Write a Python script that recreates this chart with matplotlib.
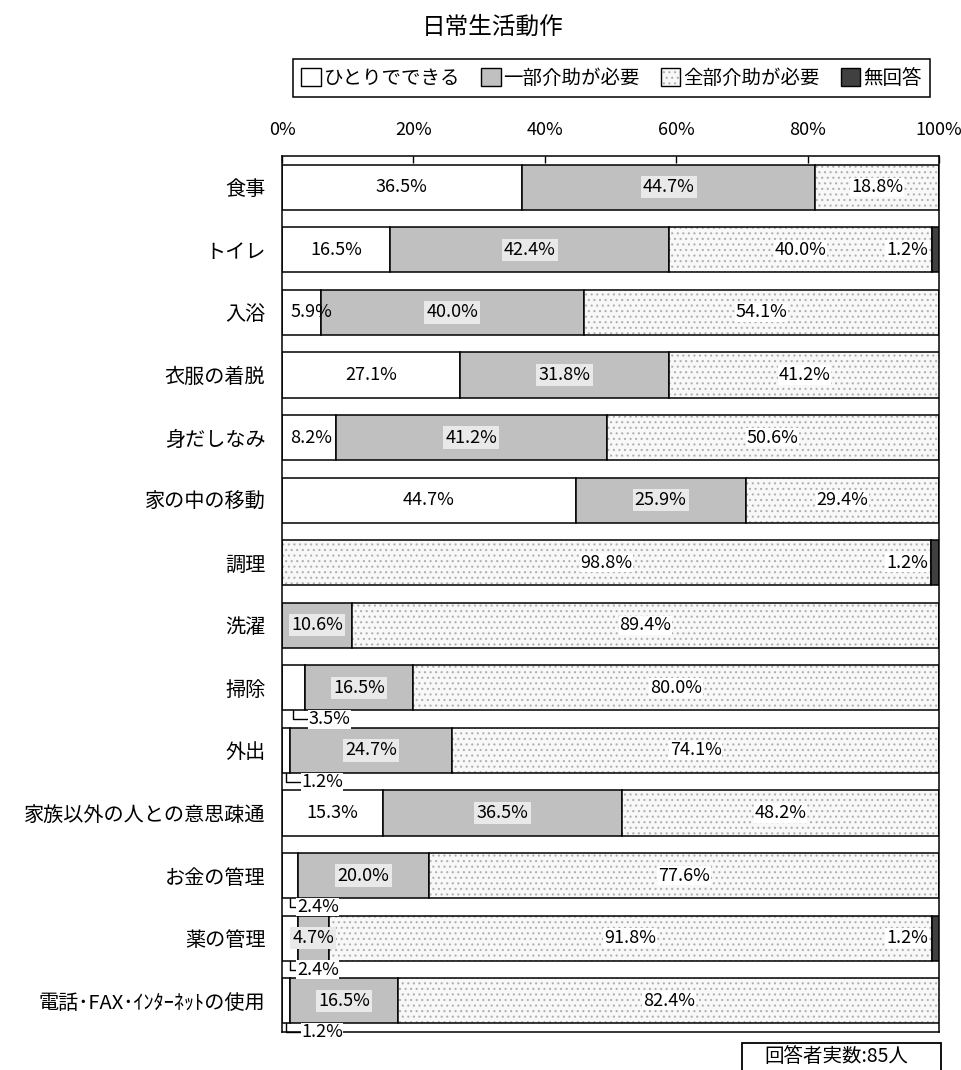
import matplotlib.pyplot as plt
from matplotlib.patches import Patch, Rectangle
from matplotlib.legend_handler import HandlerTuple

plt.rcParams['font.family'] = ['Noto Sans CJK JP', 'DejaVu Sans']
plt.rcParams['hatch.linewidth'] = 0.8

categories = ['食事', 'トイレ', '入浴', '衣服の着脱', '身だしなみ', '家の中の移動',
              '調理', '洗濯', '掃除', '外出', '家族以外の人との意思疎通',
              'お金の管理', '薬の管理', '電話･FAX･ｲﾝﾀｰﾈｯﾄの使用']
alone = [36.5, 16.5, 5.9, 27.1, 8.2, 44.7, 0, 0, 3.5, 1.2, 15.3, 2.4, 2.4, 1.2]
partial = [44.7, 42.4, 40.0, 31.8, 41.2, 25.9, 0, 10.6, 16.5, 24.7, 36.5, 20.0, 4.7, 16.5]
full = [18.8, 40.0, 54.1, 41.2, 50.6, 29.4, 98.8, 89.4, 80.0, 74.1, 48.2, 77.6, 91.8, 82.4]
no_answer = [0, 1.2, 0, 0, 0, 0, 1.2, 0, 0, 0, 0, 0, 1.2, 0]
series_names = ['ひとりでできる', '一部介助が必要', '全部介助が必要', '無回答']
xticks = [0, 20, 40, 60, 80, 100]
respondents = 85

W, H = 962, 1070
fig = plt.figure(figsize=(W / 100, H / 100), dpi=100)
ax = fig.add_axes([282 / W, 1 - 1032 / H, 657 / W, 876 / H])

bar_h = 0.72
rows = list(range(len(categories)))
white, gray, dot_face, dot_color, dark = 'white', '#c0c0c0', '#f8f8f8', '#b0b0b0', '#404040'

left = [0.0] * len(rows)
segments = []
for name, vals in zip(series_names, [alone, partial, full, no_answer]):
    segments.append((name, vals, list(left)))
    left = [l + v for l, v in zip(left, vals)]

for name, vals, lefts in segments:
    if name == '全部介助が必要':
        ax.barh(rows, vals, left=lefts, height=bar_h, color=dot_face,
                hatch='...', edgecolor=dot_color, linewidth=0)
        ax.barh(rows, vals, left=lefts, height=bar_h, fill=False,
                edgecolor='black', linewidth=1.1)
    else:
        fc = {'ひとりでできる': white, '一部介助が必要': gray, '無回答': dark}[name]
        ax.barh(rows, vals, left=lefts, height=bar_h, color=fc,
                edgecolor='black', linewidth=1.1)

lab_fs = 13
for name, vals, lefts in segments:
    for i, (v, l) in enumerate(zip(vals, lefts)):
        if v == 0:
            continue
        txt = f'{v:.1f}%'
        if name == '無回答':
            ax.text(98.3, i, txt, ha='right', va='center', fontsize=lab_fs,
                    bbox=dict(facecolor='white', edgecolor='none', pad=0.5))
        elif name == 'ひとりでできる':
            if v < 4:
                # small share: leader line drawn down into the gap below the bar
                ax.annotate(txt, xy=(l + v / 2, i + bar_h / 2),
                            xytext=(11 if v != 2.4 else 5, -6.5),
                            textcoords='offset points', ha='left', va='center',
                            fontsize=lab_fs,
                            bbox=dict(facecolor='white', edgecolor='none', pad=0.3),
                            arrowprops=dict(arrowstyle='-', lw=1.0, shrinkA=0, shrinkB=0,
                                            connectionstyle='angle,angleA=0,angleB=90,rad=0'))
            elif v < 10:
                ax.text(l + 1.3, i, txt, ha='left', va='center', fontsize=lab_fs)
            else:
                ax.text(l + v / 2, i, txt, ha='center', va='center', fontsize=lab_fs)
        elif name == '一部介助が必要':
            ax.text(l + v / 2, i, txt, ha='center', va='center', fontsize=lab_fs,
                    bbox=dict(facecolor='#e9e9e9', edgecolor='none', pad=1.5))
        else:
            ax.text(l + v / 2, i, txt, ha='center', va='center', fontsize=lab_fs,
                    bbox=dict(facecolor='white', edgecolor='none', pad=0.5))

ax.set_xlim(0, 100)
ax.set_ylim(len(rows) - 0.5, -0.5)
ax.set_yticks(rows)
ax.set_yticklabels(categories)
ax.tick_params(axis='y', length=0, pad=12, labelsize=14.5)
ax.xaxis.tick_top()
ax.set_xticks(xticks)
ax.set_xticklabels([f'{t}%' for t in xticks])
ax.tick_params(axis='x', direction='in', length=5, width=1, pad=12, labelsize=13)
for sp in ax.spines.values():
    sp.set_linewidth(1.1)

def dotted_handle():
    return (Patch(facecolor=dot_face, hatch='...', edgecolor=dot_color, linewidth=0),
            Patch(fill=False, edgecolor='black', linewidth=1.0))

handles = [Patch(facecolor=white, edgecolor='black', linewidth=1.0),
           Patch(facecolor=gray, edgecolor='black', linewidth=1.0),
           dotted_handle(),
           Patch(facecolor=dark, edgecolor='black', linewidth=1.0)]
leg = fig.legend(handles, series_names, loc='lower left', ncol=4, mode='expand',
                 bbox_to_anchor=(283 / W, 1 - 107 / H, 657 / W, 46 / H),
                 fontsize=14, handlelength=1.0, handleheight=1.0,
                 handletextpad=0.15, columnspacing=0.6, borderpad=0.45,
                 fancybox=False, edgecolor='black', framealpha=1,
                 handler_map={tuple: HandlerTuple(ndivide=1)})
leg.get_frame().set_linewidth(1.1)

fig.text(493 / W, 1 - 27 / H, '日常生活動作', ha='center', va='center', fontsize=17)

fig.patches.append(Rectangle((742 / W, -0.02), (941 - 742) / W, (H - 1043) / H + 0.02,
                             transform=fig.transFigure, fill=False,
                             edgecolor='black', linewidth=1.3))
fig.text(836 / W, 1 - 1057 / H, f'回答者実数:{respondents}人', ha='center',
         va='center', fontsize=14)

fig.savefig('out.png', dpi=100)
